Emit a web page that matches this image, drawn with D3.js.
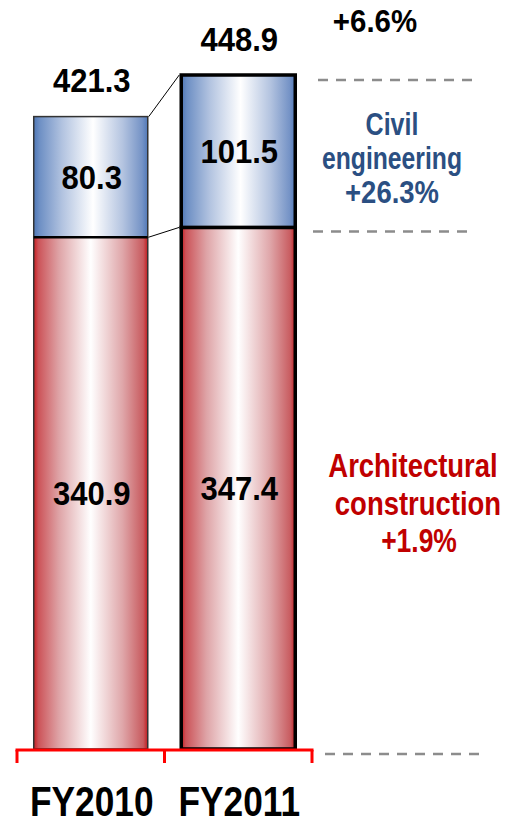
<!DOCTYPE html>
<html>
<head>
<meta charset="utf-8">
<script src="https://cdn.jsdelivr.net/npm/d3@7"></script>
<style>
  html, body { margin: 0; padding: 0; background: #fff; }
  svg { display: block; }
  text { font-family: "Liberation Sans", Arial, sans-serif; font-weight: 700; }
</style>
</head>
<body>
<svg id="chart" width="509" height="825"></svg>
<script>
// Orders received by segment (billion yen)
const categories = ["FY2010", "FY2011"];
const architectural = [340.9, 347.4];
const civil = [80.3, 101.5];
const totals = [421.3, 448.9];
const totalGrowth = "+6.6%";
const civilLabel = ["Civil", "engineering", "+26.3%"];
const archLabel = ["Architectural", "construction", "+1.9%"];

const svg = d3.select("#chart");

const x = d3.scaleBand().domain(categories).range([17, 312]).paddingInner(0.227).paddingOuter(0.1135);
const y = d3.scaleLinear().domain([0, 448.9]).range([749, 75]);

// Condensed text: horizontally squeezed around its anchor
function label(parent, cx, cy, str, size, sx, fill) {
  return parent.append("text")
    .attr("transform", `translate(${cx},${cy}) scale(${sx},1)`)
    .attr("text-anchor", "middle")
    .attr("font-size", size)
    .attr("fill", fill || "#000")
    .text(str);
}

// Cylinder-style shading
const defs = svg.append("defs");
function grad(id, stops) {
  const g = defs.append("linearGradient").attr("id", id).attr("x1", "0%").attr("x2", "100%").attr("y1", "0%").attr("y2", "0%");
  stops.forEach(([o, c]) => g.append("stop").attr("offset", o).attr("stop-color", c));
}
grad("gRed", [["0%", "#c81c20"], ["4%", "#cc5358"], ["22%", "#dea3a6"], ["50%", "#ffffff"], ["78%", "#dfa6a9"], ["96%", "#c85b5f"], ["100%", "#c01c20"]]);
grad("gBlue", [["0%", "#4f77b6"], ["5%", "#6d8fc4"], ["25%", "#b2c3e0"], ["52%", "#ffffff"], ["78%", "#b4c4e0"], ["95%", "#7593c6"], ["100%", "#5279b8"]]);

const rows = categories.map((c, i) => ({ c, i, a: architectural[i], v: civil[i], t: totals[i] }));

// Stacked bars
const bars = svg.append("g");
rows.forEach(d => {
  const thick = d.i === 1;
  const sw = thick ? 3.5 : 1.5;
  const col = thick ? "#000" : "#333";
  bars.append("rect")
    .attr("x", x(d.c)).attr("width", x.bandwidth())
    .attr("y", y(d.a)).attr("height", y(0) - y(d.a))
    .attr("fill", "url(#gRed)").attr("stroke", col).attr("stroke-width", sw);
  bars.append("rect")
    .attr("x", x(d.c)).attr("width", x.bandwidth())
    .attr("y", y(d.a + d.v)).attr("height", y(d.a) - y(d.a + d.v))
    .attr("fill", "url(#gBlue)").attr("stroke", col).attr("stroke-width", sw);
  if (!thick) {
    bars.append("line")
      .attr("x1", x(d.c)).attr("x2", x(d.c) + x.bandwidth())
      .attr("y1", y(d.a)).attr("y2", y(d.a))
      .attr("stroke", "#000").attr("stroke-width", 2.5);
  }
});

// Connector lines between the two bars
const r0 = rows[0], r1 = rows[1];
[[r0.a + r0.v, r1.a + r1.v], [r0.a, r1.a]].forEach(([v0, v1]) => {
  svg.append("line")
    .attr("x1", x(r0.c) + x.bandwidth() + 1).attr("y1", y(v0))
    .attr("x2", x(r1.c) - 2).attr("y2", y(v1))
    .attr("stroke", "#000").attr("stroke-width", 1);
});

// Segment values and totals
const vals = svg.append("g");
rows.forEach(d => {
  const cx = x(d.c) + x.bandwidth() / 2 + 1;
  label(vals, cx, (y(0) + y(d.a)) / 2 + 12, d.a.toFixed(1), 33, 0.94);
  label(vals, cx, (y(d.a) + y(d.a + d.v)) / 2 + 12, d.v.toFixed(1), 33, 0.94);
  label(vals, cx, y(d.t) - 24, d.t.toFixed(1), 33, 0.94);
});

// Category axis (red bracket)
const ax0 = x.range()[0], ax1 = x.range()[1];
const ticks = [ax0, x(categories[1]) - x.step() * x.paddingInner() / 2, ax1];
const axis = svg.append("g");
axis.append("line").attr("x1", ax0 - 1.5).attr("x2", ax1 + 1.5).attr("y1", 750).attr("y2", 750)
  .attr("stroke", "#ff0000").attr("stroke-width", 3);
ticks.forEach(t => axis.append("line").attr("x1", t).attr("x2", t).attr("y1", 750).attr("y2", 763)
  .attr("stroke", "#ff0000").attr("stroke-width", 3));
categories.forEach(c => label(axis, x(c) + x.bandwidth() / 2 + 1, 816, c, 42.5, 0.83));

// Reference dashes
const dash = svg.append("g").attr("stroke", "#8c8c8c").attr("stroke-width", 2.5).attr("stroke-dasharray", "10,8");
dash.append("line").attr("x1", 318).attr("x2", 480).attr("y1", y(r1.t) + 5).attr("y2", y(r1.t) + 5);
dash.append("line").attr("x1", 313).attr("x2", 475).attr("y1", y(r1.a) + 4).attr("y2", y(r1.a) + 4);
dash.append("line").attr("x1", 325).attr("x2", 487).attr("y1", y(0) + 5).attr("y2", y(0) + 5);

// Growth annotations
label(svg, 375, 32, totalGrowth, 32, 0.92);

const civ = svg.append("g");
const civScale = [0.82, 0.81, 0.9];
civilLabel.forEach((s, i) => label(civ, 392, 135 + i * 34, s, 30.5, civScale[i], "#2b4f82"));

const arch = svg.append("g");
const archScale = [0.82, 0.82, 0.79];
const archX = [413, 418, 419];
archLabel.forEach((s, i) => label(arch, archX[i], 477 + i * 37.5, s, 33.5, archScale[i], "#c00000"));
</script>
</body>
</html>
